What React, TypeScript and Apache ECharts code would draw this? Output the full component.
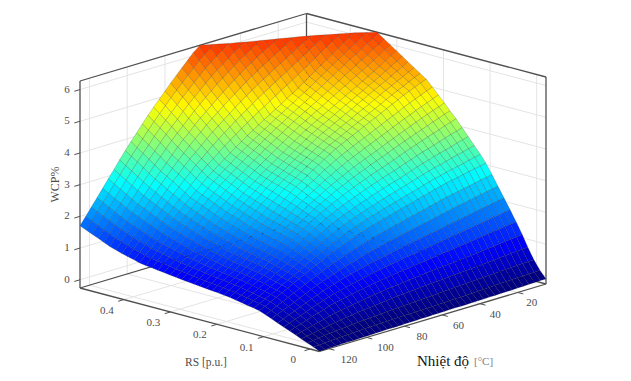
import React, { useEffect, useRef } from "react";
import * as echarts from "echarts";

const T_GRID = [125,122,119,116,113,110,107,104,101,98,95,92,89,86,83,80,77,74,71,68,65,62,59,56,53,50,47,44,41,38,35,32,29,26,23,20,17,14,11,8,5];
const RS_GRID = [-.02,-.007,.006,.019,.031,.044,.057,.07,.083,.096,.109,.121,.134,.147,.16,.173,.186,.198,.211,.224,.237,.25,.263,.276,.288,.301,.314,.327,.34,.353,.366,.378,.391,.404,.417,.43,.443,.455,.468,.481,.494];
const T_TICKS = [20,40,60,80,100,120];
const RS_TICKS = [0,0.1,0.2,0.3,0.4];
const RS_TICK_LABELS = ["0","0.1","0.2","0.3","0.4"];
const Z_TICKS = [0,1,2,3,4,5,6];

// One row per RS value; each row runs along T_GRID. Rows stop just past the top of the z axis.
const WCP = [
[-.25,-.25,-.24,-.24,-.23,-.23,-.23,-.22,-.22,-.22,-.21,-.21,-.2,-.2,-.2,-.19,-.19,-.19,-.18,-.18,-.17,-.17,-.17,-.16,-.16,-.16,-.16,-.15,-.15,-.15,-.14,-.14,-.13,-.13,-.13,-.12,-.12,-.11,-.11,-.1,-.1],
[-.17,-.16,-.15,-.13,-.12,-.11,-.1,-.09,-.08,-.07,-.07,-.06,-.05,-.05,-.04,-.04,-.03,-.03,-.02,-.02,-.01,-.01,0,0,.01,.02,.02,.03,.04,.05,.05,.06,.07,.08,.09,.09,.1,.1,.11,.11,.12],
[-.09,-.07,-.04,-.02,0,.02,.04,.05,.07,.08,.1,.11,.12,.13,.15,.16,.17,.18,.19,.2,.21,.22,.23,.24,.25,.26,.27,.28,.29,.3,.31,.32,.33,.34,.35,.36,.37,.38,.39,.39,.4],
[-.02,.02,.05,.09,.12,.15,.18,.21,.24,.26,.29,.31,.33,.35,.37,.39,.41,.43,.44,.46,.47,.49,.5,.52,.53,.54,.55,.57,.58,.59,.6,.62,.63,.65,.66,.68,.69,.71,.72,.74,.75],
[.06,.11,.16,.2,.25,.29,.34,.38,.42,.45,.48,.51,.54,.57,.6,.62,.65,.67,.69,.71,.73,.75,.77,.79,.81,.83,.84,.86,.87,.89,.91,.92,.94,.96,.98,1,1.02,1.04,1.06,1.08,1.1],
[.14,.2,.26,.32,.38,.44,.49,.55,.6,.64,.68,.71,.75,.78,.82,.85,.88,.91,.93,.96,.98,1,1.03,1.05,1.07,1.1,1.12,1.15,1.17,1.19,1.22,1.24,1.26,1.29,1.31,1.34,1.36,1.38,1.41,1.43,1.45],
[.21,.28,.35,.41,.48,.55,.61,.68,.74,.79,.83,.88,.92,.96,1,1.04,1.08,1.11,1.15,1.18,1.21,1.24,1.27,1.29,1.32,1.35,1.38,1.41,1.44,1.47,1.5,1.52,1.55,1.58,1.61,1.64,1.67,1.7,1.72,1.75,1.78],
[.29,.36,.44,.51,.58,.65,.73,.8,.87,.93,.98,1.04,1.09,1.14,1.19,1.23,1.28,1.32,1.36,1.39,1.43,1.47,1.5,1.54,1.57,1.6,1.64,1.67,1.7,1.73,1.77,1.8,1.83,1.87,1.9,1.94,1.97,2,2.04,2.07,2.1],
[.37,.45,.53,.6,.68,.76,.84,.92,1,1.07,1.13,1.2,1.26,1.32,1.38,1.43,1.49,1.54,1.58,1.63,1.67,1.71,1.75,1.79,1.83,1.87,1.91,1.94,1.98,2.02,2.06,2.1,2.14,2.18,2.21,2.25,2.28,2.32,2.35,2.39,2.42],
[.45,.53,.62,.7,.78,.87,.95,1.04,1.12,1.2,1.28,1.35,1.43,1.5,1.57,1.63,1.7,1.75,1.81,1.86,1.91,1.96,2,2.05,2.09,2.14,2.18,2.23,2.27,2.32,2.36,2.41,2.45,2.49,2.52,2.56,2.59,2.63,2.67,2.7,2.74],
[.52,.61,.7,.79,.88,.97,1.06,1.16,1.25,1.34,1.43,1.51,1.6,1.68,1.75,1.83,1.9,1.96,2.03,2.09,2.15,2.2,2.25,2.3,2.35,2.4,2.45,2.5,2.55,2.6,2.65,2.7,2.75,2.79,2.83,2.86,2.9,2.94,2.98,3.01,3.05],
[.56,.65,.74,.83,.92,1.02,1.12,1.21,1.31,1.41,1.51,1.6,1.7,1.78,1.87,1.95,2.03,2.1,2.17,2.23,2.3,2.36,2.41,2.47,2.52,2.57,2.63,2.68,2.73,2.78,2.84,2.89,2.94,2.98,3.03,3.07,3.11,3.15,3.2,3.24,3.28],
[.59,.69,.78,.88,.97,1.07,1.17,1.27,1.37,1.48,1.58,1.69,1.79,1.88,1.97,2.06,2.15,2.22,2.3,2.37,2.44,2.5,2.56,2.62,2.68,2.74,2.79,2.85,2.9,2.96,3.02,3.07,3.13,3.18,3.22,3.27,3.32,3.37,3.41,3.46,3.51],
[.63,.73,.83,.92,1.02,1.12,1.23,1.33,1.43,1.54,1.66,1.77,1.88,1.98,2.08,2.17,2.27,2.35,2.43,2.5,2.58,2.65,2.71,2.78,2.84,2.9,2.96,3.01,3.07,3.13,3.2,3.26,3.32,3.37,3.43,3.48,3.53,3.58,3.64,3.69,3.74],
[.66,.76,.86,.96,1.06,1.17,1.28,1.38,1.49,1.61,1.73,1.84,1.96,2.07,2.18,2.28,2.39,2.47,2.56,2.64,2.72,2.79,2.86,2.93,3,3.06,3.13,3.19,3.25,3.31,3.38,3.44,3.51,3.57,3.62,3.68,3.74,3.8,3.86,3.91,3.97],
[.7,.8,.9,1,1.1,1.21,1.33,1.44,1.55,1.68,1.8,1.93,2.05,2.16,2.28,2.39,2.5,2.59,2.68,2.76,2.85,2.93,3,3.08,3.15,3.22,3.29,3.35,3.42,3.49,3.56,3.63,3.7,3.76,3.83,3.89,3.95,4.01,4.08,4.14,4.2],
[.72,.82,.93,1.03,1.13,1.25,1.36,1.48,1.59,1.72,1.85,1.97,2.1,2.22,2.34,2.46,2.58,2.68,2.77,2.87,2.96,3.04,3.13,3.21,3.29,3.36,3.44,3.51,3.58,3.65,3.73,3.8,3.87,3.94,4.01,4.07,4.14,4.21,4.27,4.34,4.4],
[.74,.85,.95,1.06,1.16,1.28,1.4,1.51,1.63,1.76,1.89,2.02,2.15,2.28,2.41,2.53,2.66,2.76,2.86,2.97,3.07,3.16,3.25,3.34,3.43,3.51,3.58,3.66,3.73,3.81,3.89,3.96,4.04,4.11,4.19,4.26,4.33,4.4,4.47,4.53,4.6],
[.76,.87,.98,1.08,1.19,1.31,1.43,1.55,1.67,1.8,1.94,2.07,2.2,2.34,2.47,2.61,2.74,2.85,2.96,3.07,3.18,3.28,3.38,3.47,3.57,3.65,3.73,3.81,3.89,3.97,4.05,4.13,4.21,4.29,4.37,4.44,4.52,4.59,4.66,4.73,4.8],
[.78,.89,1,1.11,1.22,1.34,1.47,1.59,1.71,1.85,1.98,2.12,2.25,2.39,2.54,2.68,2.82,2.94,3.06,3.17,3.29,3.4,3.5,3.61,3.71,3.79,3.88,3.96,4.04,4.12,4.21,4.29,4.38,4.46,4.54,4.63,4.71,4.78,4.85,4.93,5],
[.8,.91,1.03,1.14,1.25,1.38,1.5,1.63,1.75,1.89,2.03,2.16,2.3,2.45,2.6,2.75,2.9,3.03,3.15,3.28,3.4,3.51,3.63,3.74,3.85,3.94,4.03,4.11,4.2,4.29,4.38,4.46,4.55,4.64,4.73,4.81,4.9,4.98,5.05,5.13,5.2],
[.82,.94,1.06,1.17,1.29,1.42,1.55,1.68,1.81,1.95,2.09,2.23,2.37,2.52,2.67,2.81,2.96,3.09,3.21,3.34,3.46,3.58,3.69,3.81,3.92,4.01,4.1,4.19,4.28,4.37,4.46,4.55,4.64,4.73,4.82,4.91,5,5.08,5.17,5.25,5.33],
[.84,.96,1.09,1.21,1.33,1.47,1.6,1.74,1.87,2.01,2.16,2.3,2.44,2.59,2.73,2.88,3.02,3.15,3.27,3.4,3.52,3.64,3.76,3.87,3.99,4.08,4.18,4.27,4.36,4.45,4.55,4.64,4.73,4.82,4.92,5.01,5.1,5.19,5.28,5.37,5.46],
[.86,.99,1.12,1.24,1.37,1.51,1.65,1.79,1.93,2.08,2.22,2.37,2.51,2.65,2.8,2.94,3.08,3.21,3.33,3.46,3.58,3.7,3.82,3.94,4.06,4.16,4.25,4.35,4.44,4.54,4.63,4.73,4.82,4.92,5.01,5.11,5.2,5.3,5.4,5.49,5.59],
[.88,1.01,1.15,1.28,1.41,1.56,1.7,1.85,1.99,2.14,2.29,2.43,2.58,2.72,2.86,3,3.14,3.27,3.39,3.52,3.64,3.76,3.89,4.01,4.13,4.23,4.33,4.42,4.52,4.62,4.72,4.81,4.91,5.01,5.11,5.2,5.3,5.41,5.51,5.62,5.72],
[.9,1.04,1.18,1.31,1.45,1.6,1.75,1.9,2.05,2.2,2.35,2.5,2.65,2.79,2.93,3.06,3.2,3.33,3.45,3.58,3.7,3.83,3.95,4.08,4.2,4.3,4.4,4.5,4.6,4.7,4.8,4.9,5,5.1,5.2,5.3,5.4,5.51,5.63,5.74,5.85],
[.93,1.08,1.22,1.37,1.51,1.67,1.82,1.98,2.13,2.28,2.44,2.59,2.74,2.88,3.02,3.15,3.29,3.42,3.54,3.67,3.79,3.91,4.04,4.16,4.28,4.38,4.49,4.59,4.69,4.8,4.9,5.01,5.11,5.22,5.32,5.43,5.53,5.64,5.76,5.87,5.98],
[.95,1.11,1.26,1.42,1.57,1.73,1.89,2.05,2.21,2.37,2.52,2.68,2.83,2.97,3.11,3.24,3.38,3.51,3.63,3.76,3.88,4,4.12,4.24,4.36,4.47,4.57,4.68,4.78,4.89,5,5.11,5.22,5.33,5.44,5.55,5.66,5.77,5.89,6,6.11],
[.98,1.14,1.31,1.47,1.63,1.8,1.96,2.13,2.29,2.45,2.61,2.76,2.92,3.06,3.2,3.33,3.47,3.6,3.72,3.85,3.97,4.09,4.21,4.32,4.44,4.55,4.66,4.76,4.87,4.99,5.1,5.22,5.33,5.45,5.56,5.68,5.79,5.9,6.02,6.13,6.24],
[1,1.17,1.35,1.52,1.69,1.86,2.03,2.2,2.37,2.53,2.69,2.85,3.01,3.15,3.29,3.42,3.56,3.69,3.81,3.94,4.06,4.18,4.29,4.41,4.52,4.63,4.74,4.85,4.96,5.08,5.2,5.32,5.44,5.56,5.68,5.8,5.92,6.03,6.15,6.26,6.37],
[1.03,1.21,1.39,1.57,1.75,1.93,2.1,2.28,2.45,2.61,2.78,2.94,3.1,3.24,3.38,3.51,3.65,3.78,3.9,4.03,4.15,4.26,4.38,4.49,4.6,4.71,4.83,4.94,5.05,5.18,5.3,5.43,5.55,5.68,5.8,5.93,6.05,6.16,6.28,6.39,6.5],
[1.08,1.27,1.46,1.64,1.83,2.01,2.2,2.38,2.56,2.73,2.9,3.07,3.24,3.39,3.53,3.68,3.82,3.95,4.08,4.21,4.34,4.46,4.58,4.69,4.81,4.92,5.04,5.15,5.26,5.38,5.5,5.62,5.74,5.86,5.98,6.1,6.22,6.33,6.44,6.55,6.66],
[1.13,1.33,1.52,1.72,1.91,2.1,2.29,2.48,2.67,2.85,3.03,3.2,3.38,3.53,3.69,3.84,3.99,4.13,4.26,4.4,4.53,4.65,4.78,4.9,5.02,5.13,5.25,5.36,5.47,5.59,5.7,5.82,5.93,6.05,6.16,6.28,6.39,6.49,6.6,6.7,6.8],
[1.18,1.38,1.58,1.79,1.99,2.19,2.39,2.58,2.78,2.97,3.15,3.34,3.52,3.68,3.84,4,4.16,4.3,4.44,4.58,4.72,4.85,4.98,5.1,5.23,5.34,5.46,5.57,5.68,5.79,5.9,6.01,6.12,6.23,6.34,6.45,6.56,6.67],
[1.24,1.45,1.66,1.86,2.07,2.28,2.48,2.69,2.89,3.08,3.28,3.47,3.66,3.83,4,4.16,4.33,4.48,4.62,4.77,4.91,5.04,5.18,5.31,5.44,5.55,5.67,5.78,5.89,6,6.1,6.21,6.31,6.42,6.52,6.63],
[1.3,1.51,1.73,1.94,2.15,2.36,2.58,2.79,3,3.2,3.4,3.6,3.8,3.98,4.15,4.33,4.5,4.65,4.8,4.95,5.1,5.24,5.38,5.51,5.65,5.76,5.88,5.99,6.1,6.2,6.3,6.4,6.5,6.6],
[1.38,1.6,1.82,2.03,2.25,2.47,2.69,2.91,3.13,3.34,3.54,3.75,3.95,4.13,4.31,4.49,4.67,4.83,4.99,5.14,5.3,5.44,5.58,5.71,5.85,5.96,6.08,6.19,6.3,6.4,6.5,6.6],
[1.46,1.68,1.91,2.13,2.35,2.58,2.8,3.03,3.26,3.47,3.68,3.89,4.1,4.29,4.47,4.66,4.84,5.01,5.17,5.34,5.5,5.64,5.78,5.91,6.05,6.16,6.28,6.39,6.5,6.6],
[1.54,1.77,2,2.22,2.45,2.69,2.92,3.16,3.39,3.61,3.82,4.04,4.25,4.44,4.63,4.82,5.01,5.18,5.36,5.53,5.7,5.84,5.98,6.11,6.25,6.36,6.48,6.59],
[1.62,1.86,2.09,2.33,2.56,2.8,3.04,3.28,3.52,3.74,3.96,4.18,4.4,4.6,4.79,4.99,5.18,5.36,5.54,5.72,5.9,6.04,6.18,6.31,6.45,6.55],
[1.7,1.94,2.19,2.43,2.67,2.92,3.16,3.41,3.65,3.88,4.1,4.33,4.55,4.75,4.95,5.15,5.35,5.54,5.73,5.91,6.1,6.24,6.38,6.51,6.65],
];

const Z_MIN = -0.26, Z_MAX = 6.27, T_MIN = 5, T_MAX = 125, RS_MIN = -0.02, RS_MAX = 0.494;
const CLIM = 7.6;

// Orthographic view of the MATLAB-style box.
const FRONT = [319.5, 351.5], U = [226.5, -67.5], V = [-239.5, -63.5], PX_PER_Z = 31.7;
const SERIF = '"Liberation Serif", "Times New Roman", serif';
const TEXT = "#4d4d4d";

function project(rs: number, t: number, z: number) {
  const u = (T_MAX - t) / (T_MAX - T_MIN);
  const v = (rs - RS_MIN) / (RS_MAX - RS_MIN);
  return [FRONT[0] + U[0] * u + V[0] * v, FRONT[1] + U[1] * u + V[1] * v - (z - Z_MIN) * PX_PER_Z];
}

function jet(z: number) {
  const t = Math.max(0, Math.min(1, z / CLIM));
  const f = (a: number) => Math.round(255 * Math.max(0, Math.min(1, 1.5 - Math.abs(4 * t - a))));
  return `rgb(${f(3)},${f(2)},${f(1)})`;
}

// Cut a polygon of [rs, t, z] corners at the z limits of the box.
function clipZ(poly: number[][], limit: number, keepBelow: boolean) {
  const inside = (p: number[]) => (keepBelow ? p[2] <= limit : p[2] >= limit);
  const out: number[][] = [];
  poly.forEach((p, n) => {
    const q = poly[(n + 1) % poly.length];
    if (inside(p)) out.push(p);
    if (inside(p) !== inside(q)) {
      const k = (limit - p[2]) / (q[2] - p[2]);
      out.push([p[0] + (q[0] - p[0]) * k, p[1] + (q[1] - p[1]) * k, limit]);
    }
  });
  return out;
}

const cells: number[][] = [];
for (let j = RS_GRID.length - 2; j >= 0; j--)
  for (let i = T_GRID.length - 2; i >= 0; i--) cells.push([i, j]);

const line = (a: number[], b: number[], stroke: string, lineWidth: number) => ({
  type: "line",
  shape: { x1: a[0], y1: a[1], x2: b[0], y2: b[1] },
  style: { stroke, lineWidth },
  silent: true,
});
const label = (p: number[], text: string) => ({
  type: "text",
  x: p[0],
  y: p[1],
  silent: true,
  style: { text, fill: TEXT, font: `11px ${SERIF}`, align: "center", verticalAlign: "middle" },
});

const GRID_COLOR = "#e4e4e4";
const BOX_COLOR = "#505050";

function renderBack(_: any, api: any) {
  const p = (rs: number, t: number, z: number) => api.coord(project(rs, t, z));
  const ch: any[] = [];
  T_TICKS.forEach((t) => {
    ch.push(line(p(RS_MAX, t, Z_MIN), p(RS_MAX, t, Z_MAX), GRID_COLOR, 1));
    ch.push(line(p(RS_MAX, t, Z_MIN), p(RS_MIN, t, Z_MIN), GRID_COLOR, 1));
  });
  RS_TICKS.forEach((r) => {
    ch.push(line(p(r, T_MIN, Z_MIN), p(r, T_MIN, Z_MAX), GRID_COLOR, 1));
    ch.push(line(p(r, T_MIN, Z_MIN), p(r, T_MAX, Z_MIN), GRID_COLOR, 1));
  });
  Z_TICKS.forEach((z) => {
    ch.push(line(p(RS_MAX, T_MAX, z), p(RS_MAX, T_MIN, z), GRID_COLOR, 1));
    ch.push(line(p(RS_MAX, T_MIN, z), p(RS_MIN, T_MIN, z), GRID_COLOR, 1));
  });
  const boxEdges = [
    [p(RS_MAX, T_MAX, Z_MAX), p(RS_MAX, T_MIN, Z_MAX)],
    [p(RS_MAX, T_MIN, Z_MAX), p(RS_MIN, T_MIN, Z_MAX)],
    [p(RS_MAX, T_MAX, Z_MIN), p(RS_MAX, T_MAX, Z_MAX)],
    [p(RS_MAX, T_MIN, Z_MIN), p(RS_MAX, T_MIN, Z_MAX)],
    [p(RS_MIN, T_MIN, Z_MIN), p(RS_MIN, T_MIN, Z_MAX)],
    [p(RS_MAX, T_MAX, Z_MIN), p(RS_MAX, T_MIN, Z_MIN)],
    [p(RS_MAX, T_MIN, Z_MIN), p(RS_MIN, T_MIN, Z_MIN)],
    [p(RS_MAX, T_MAX, Z_MIN), p(RS_MIN, T_MAX, Z_MIN)],
    [p(RS_MIN, T_MAX, Z_MIN), p(RS_MIN, T_MIN, Z_MIN)],
  ];
  boxEdges.forEach((e) => ch.push(line(e[0], e[1], BOX_COLOR, 1.3)));
  T_TICKS.forEach((t) => {
    ch.push(line(p(RS_MIN, t, Z_MIN), p(RS_MIN - 0.012, t, Z_MIN), BOX_COLOR, 1));
    const l = p(RS_MIN, t, Z_MIN);
    ch.push(label([l[0] + 14 + (t - 20) * 0.06, l[1] + 10], String(t)));
  });
  RS_TICKS.forEach((r, n) => {
    ch.push(line(p(r, T_MAX, Z_MIN), p(r, T_MAX + 3, Z_MIN), BOX_COLOR, 1));
    const l = p(r, T_MAX, Z_MIN);
    ch.push(label([l[0] - 17, l[1] + 10], RS_TICK_LABELS[n]));
  });
  Z_TICKS.forEach((z) => {
    const a = p(RS_MAX, T_MAX, z);
    ch.push(line(a, p(RS_MAX, T_MAX + 3, z), BOX_COLOR, 1));
    ch.push(label([a[0] - 13, a[1] - 1], String(z)));
  });
  return { type: "group", children: ch };
}

function renderCell(_: any, api: any) {
  const i = api.value(0), j = api.value(1);
  const corner = (a: number, b: number) => [RS_GRID[b], T_GRID[a], WCP[b][a] ?? Z_MAX + 1];
  let poly = [corner(i, j), corner(i + 1, j), corner(i + 1, j + 1), corner(i, j + 1)];
  poly = clipZ(poly, Z_MAX, true);
  if (poly.length < 3) return null;
  poly = clipZ(poly, Z_MIN, false);
  if (poly.length < 3) return null;
  const mean = poly.reduce((s, q) => s + q[2], 0) / poly.length;
  return {
    type: "polygon",
    silent: true,
    shape: { points: poly.map((q) => api.coord(project(q[0], q[1], q[2]))) },
    style: { fill: jet(mean), stroke: "rgba(25,25,25,0.24)", lineWidth: 0.8 },
  };
}

const hiddenAxis = (max: number, inverse: boolean) => ({ type: "value", min: 0, max, inverse, show: false });

export default function App() {
  const ref = useRef<HTMLDivElement>(null);
  useEffect(() => {
    const chart = echarts.init(ref.current!, undefined, { renderer: "svg" });
    chart.setOption({
      animation: false,
      backgroundColor: "#fff",
      grid: { left: 0, right: 0, top: 0, bottom: 0 },
      xAxis: hiddenAxis(631, false),
      yAxis: hiddenAxis(381, true),
      series: [
        { type: "custom", coordinateSystem: "cartesian2d", clip: false, silent: true, renderItem: renderBack, data: [[0, 0]], z: 1 },
        { type: "custom", coordinateSystem: "cartesian2d", clip: false, silent: true, progressive: 0, renderItem: renderCell, data: cells, z: 2 },
      ],
      graphic: [
        { type: "text", x: 55, y: 184.5, rotation: Math.PI / 2, silent: true, style: { text: "WCP%", fill: TEXT, font: `12px ${SERIF}`, align: "center", verticalAlign: "middle" } },
        { type: "text", x: 206, y: 362, silent: true, style: { text: "RS [p.u.]", fill: TEXT, font: `11.5px ${SERIF}`, align: "center", verticalAlign: "middle" } },
        { type: "text", x: 417, y: 361, silent: true, style: { text: "Nhiệt độ", fill: "#111", font: `15px ${SERIF}`, align: "left", verticalAlign: "middle" } },
        { type: "text", x: 474, y: 361, silent: true, style: { text: "[°C]", fill: "#808080", font: `11px ${SERIF}`, align: "left", verticalAlign: "middle" } },
      ],
    });
    return () => chart.dispose();
  }, []);
  return <div ref={ref} style={{ position: "absolute", left: 0, top: 0, width: 631, height: 381 }} />;
}
